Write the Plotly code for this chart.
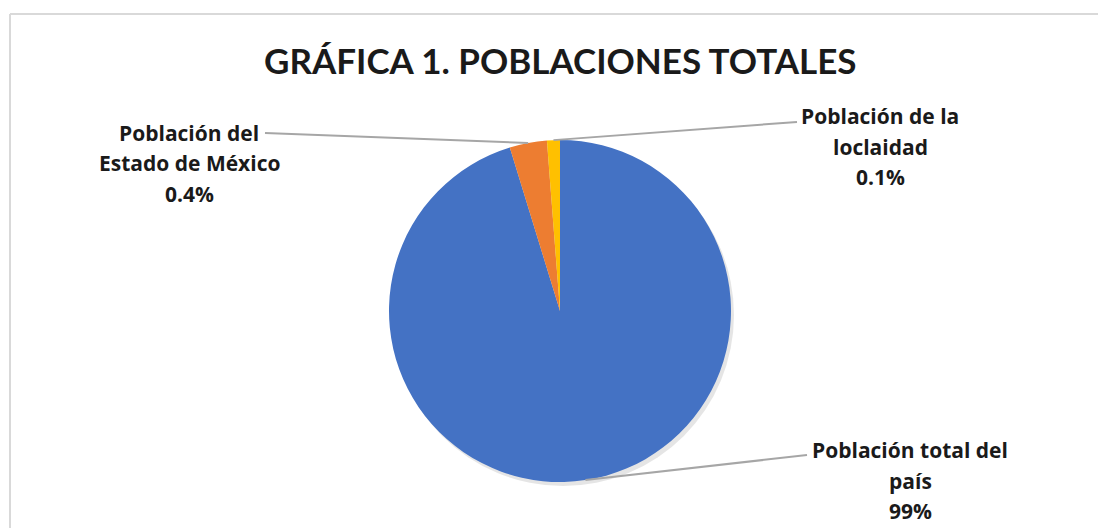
import math
import plotly.graph_objects as go

# ---- data ----
categories = ["Población total del país", "Población del Estado de México", "Población de la loclaidad"]
values = [95.26, 3.52, 1.22]          # slice sizes as drawn
label_pct = ["99%", "0.4%", "0.1%"]     # percentages printed on the chart
label_lines = [["Población total del", "país"],
               ["Población del", "Estado de México"],
               ["Población de la", "loclaidad"]]
colors = ["#4472C4", "#ED7D31", "#FFC000"]

W, H = 1098, 528
def px(x): return x / W
def py(y): return 1 - y / H

# pie geometry (pixels)
cx, cy, R = 560, 311, 171
dom_x = [px(cx - R), px(cx + R)]
dom_y = [py(cy + R), py(cy - R)]

fig = go.Figure()
# soft shadow
fig.add_trace(go.Pie(values=[1], marker=dict(colors=["rgba(0,0,0,0.10)"], line=dict(width=0)),
                     textinfo="none", hoverinfo="skip", showlegend=False, sort=False,
                     domain=dict(x=[px(cx - R + 3), px(cx + R + 3)], y=[py(cy + R + 4), py(cy - R + 4)])))
fig.add_trace(go.Pie(labels=categories, values=values, sort=False, direction="clockwise", rotation=0,
                     marker=dict(colors=colors, line=dict(color="white", width=0)),
                     textinfo="none", showlegend=False,
                     domain=dict(x=dom_x, y=dom_y)))

title_font = "Lato, sans-serif"
label_font = "'Open Sans', sans-serif"
txtcol = "#1a1a1a"
# label block anchors (center x, first line y, line-end point)
label_pos = [
    dict(x=910, y=450, lx=807, ly=455),
    dict(x=189, y=133, lx=265, ly=133),
    dict(x=880, y=116, lx=797, ly=122),
]
total = sum(values)
cum = 0
shapes = []
annotations = []
for i, v in enumerate(values):
    mid = (cum + v / 2) / total * 360
    cum += v
    a = math.radians(mid)
    sx, sy = cx + R * math.sin(a), cy - R * math.cos(a)
    p = label_pos[i]
    shapes.append(dict(type="line", xref="paper", yref="paper",
                       x0=px(sx), y0=py(sy), x1=px(p["lx"]), y1=py(p["ly"]),
                       line=dict(color="#a6a6a6", width=2)))
    lines = label_lines[i] + [label_pct[i]]
    for k, t in enumerate(lines):
        annotations.append(dict(text="<b>" + t + "</b>", x=px(p["x"]), y=py(p["y"] + 30.5 * k),
                                xref="paper", yref="paper",
                                showarrow=False, xanchor="center", yanchor="middle",
                                font=dict(family=label_font, size=21, color=txtcol)))

annotations.append(dict(text="<b>GRÁFICA 1. POBLACIONES TOTALES</b>", x=px(560), y=py(60),
                        xref="paper", yref="paper", showarrow=False, xanchor="center", yanchor="middle",
                        font=dict(family=title_font, size=35, color=txtcol)))

# chart frame
shapes.append(dict(type="line", xref="paper", yref="paper", x0=px(10), y0=py(14), x1=1.01, y1=py(14),
                   line=dict(color="#d9d9d9", width=2)))
shapes.append(dict(type="line", xref="paper", yref="paper", x0=px(10), y0=py(14), x1=px(10), y1=-0.01,
                   line=dict(color="#d9d9d9", width=2)))

fig.update_layout(width=W, height=H, margin=dict(l=0, r=0, t=0, b=0),
                  paper_bgcolor="white", plot_bgcolor="white",
                  shapes=shapes, annotations=annotations, showlegend=False)
fig.write_html("out.html")
